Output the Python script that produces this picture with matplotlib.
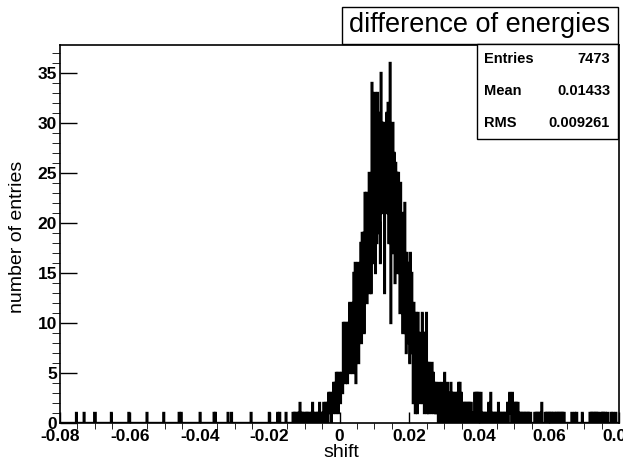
import numpy as np
import matplotlib
matplotlib.use("Agg")
import matplotlib.pyplot as plt
from matplotlib.patches import Rectangle
from matplotlib.ticker import MultipleLocator, FuncFormatter

plt.rcParams["font.family"] = ["Liberation Sans", "DejaVu Sans"]

W, H = 623, 462

# histogram binning (ROOT TH1, 800 bins over [-0.08, 0.08])
N_BINS = 800
X_MIN, X_MAX = -0.08, 0.08

# isolated single entries in the left tail
tail_hits = [-0.0753, -0.0731, -0.0701, -0.0699, -0.0653, -0.0603, -0.0551,
             -0.0503, -0.0459, -0.0453, -0.0399, -0.0359, -0.0355, -0.0319,
             -0.0309, -0.0253, -0.0201, -0.0177, -0.0171, -0.0153]

# bin contents, starting at shift = -0.015
core_start = -0.015
core_counts = [
    0, 0, 0, 0, 0, 0, 0, 0,
    1, 0, 1, 0, 1, 1, 0, 1, 0, 1, 2, 0, 1, 0, 1, 0, 1, 1, 0, 1, 0, 1, 0, 1, 1, 0, 1,
    0, 2, 0, 1, 0, 1, 1, 0, 1, 0, 1, 2, 0, 1, 0, 1, 0, 2, 1,
    0, 2, 1, 2,
    0, 3, 1, 3, 2, 0, 3,
    1, 4, 2, 4,
    1, 5, 3, 5, 1, 4, 5, 2, 5, 3,
    3, 10, 6, 10, 4, 9, 10,
    4, 10, 6, 12, 5, 11, 8, 12,
    5, 15, 8, 16, 4, 14, 10, 16, 6, 15, 9, 18,
    8, 19, 12, 19,
    9, 23, 14,
    23, 12, 22, 16, 25, 13, 23,
    13, 34, 17, 28, 16, 33,
    15, 30, 18, 33,
    19, 31, 20, 16, 35, 21, 30,
    22, 30, 13, 29, 24, 31, 21,
    32, 18, 30, 36, 10,
    29, 17, 30, 19, 27,
    14, 26, 16, 25,
    15, 25, 17, 11, 24,
    14, 21, 9, 20, 13,
    22, 9,
    7, 17, 10, 16, 8,
    6, 17, 9, 15, 7,
    2, 12, 5, 1, 11,
    10, 1, 11, 3,
    9, 2, 8, 3, 11, 2, 9,
    1, 9, 2, 11, 1,
    6, 1, 6, 2, 5, 1, 6,
    2, 5, 1, 4, 1,
    4, 1, 3, 0, 4,
    0, 3, 1, 4, 0,
    3, 1, 5, 0, 3,
    0, 4, 1, 3,
    0, 3, 4, 0, 3,
    1, 3, 0, 2, 3,
    0, 3, 1, 4,
    0, 4, 1, 3, 0,
    2, 0, 2, 1, 2,
    0, 2, 0, 2, 1, 2, 0, 2,
    0, 1, 0, 1,
    3, 0, 3, 1, 3, 0, 3, 2, 0, 3, 1,
    0, 1, 0, 1, 0, 1, 0, 1,
    0, 2, 1,
    0, 3, 1,
    0, 1, 0, 1, 0, 1, 0, 1,
    0, 2, 1,
    0, 1, 0, 1, 0, 1, 0, 1, 0, 1, 0,
    2, 0, 2, 3, 1,
    2, 0, 3, 1, 2,
    0, 2, 1, 2, 0, 2,
    1, 0, 1, 0, 1, 0, 1, 0, 1, 0, 1, 0, 1, 0, 1, 0, 1, 1,
    0, 0, 0, 0, 0,
    1, 0, 1, 0, 1, 0, 1, 0, 1,
    0, 2, 0, 0, 0, 0,
    1, 0, 1, 0, 1, 0, 1, 0, 1, 0, 1, 0, 1,
    1, 0, 1, 0, 1, 0, 1, 0, 1, 0, 1, 0, 1, 0, 1, 0,
    0, 0, 0, 0, 0, 0, 0, 0, 0,
    1, 0, 0, 0, 1, 0, 0, 1,
    0, 0, 0, 0, 0, 0, 0,
    1,
    0, 0, 0, 0, 0, 0, 0, 0, 0, 0,
    1, 0, 1, 0, 1, 0, 1, 0, 1, 0, 1, 0, 1,
    0, 0, 0,
    1, 0, 1, 0, 1, 0, 1, 0,
    0, 1, 0, 0, 0, 0, 1, 0, 0, 1, 0, 0, 0, 1, 0, 0, 0, 0,
]

stats_names = ["Entries", "Mean", "RMS"]
stats_values = ["7473", "0.01433", "0.009261"]


def fx(px):
    return px / W


def fy(py):
    return 1 - py / H


edges = np.linspace(X_MIN, X_MAX, N_BINS + 1)
counts = np.histogram(tail_hits, bins=edges)[0].astype(float)
i0 = int(round((core_start - X_MIN) / (edges[1] - edges[0])))
n = min(len(core_counts), N_BINS - i0)
counts[i0:i0 + n] += np.array(core_counts[:n])

fig = plt.figure(figsize=(W / 100, H / 100), dpi=100)
ax = fig.add_axes([fx(60), fy(423), fx(619) - fx(60), fy(45) - fy(423)])

ax.stairs(counts, edges, color="black", linewidth=1.7)

ax.set_xlim(X_MIN, X_MAX)
ax.set_ylim(0, 37.8)
ax.xaxis.set_major_locator(MultipleLocator(0.02))
ax.xaxis.set_minor_locator(MultipleLocator(0.005))
ax.yaxis.set_major_locator(MultipleLocator(5))
ax.yaxis.set_minor_locator(MultipleLocator(1))
ax.xaxis.set_major_formatter(FuncFormatter(lambda v, p: "0" if abs(v) < 1e-9 else f"{round(v, 3):g}"))

ax.tick_params(direction="in", top=False, right=False, width=1)
ax.tick_params(axis="y", which="major", length=12, pad=2)
ax.tick_params(axis="y", which="minor", length=5.8)
ax.tick_params(axis="x", which="major", length=8, pad=4)
ax.tick_params(axis="x", which="minor", length=4)
for lab in ax.get_xticklabels() + ax.get_yticklabels():
    lab.set_fontsize(12.5)
    lab.set_fontweight("bold")
for s in ax.spines.values():
    s.set_linewidth(1.2)

ax.set_xlabel("shift", fontsize=14)
ax.xaxis.set_label_coords((341 - 60) / 559, (423 - 444) / 378)
ax.set_ylabel("number of entries", fontsize=14)
ax.yaxis.set_label_coords((26 - 60) / 559, (423 - 237) / 378)

# title box
fig.patches.append(Rectangle((fx(342), fy(44)), fx(618) - fx(342), fy(7) - fy(44),
                             transform=fig.transFigure, facecolor="white",
                             edgecolor="black", linewidth=1))
fig.text(fx(479), fy(25), "difference of energies", fontsize=19.5,
         ha="center", va="center")

# stats box
fig.patches.append(Rectangle((fx(477), fy(139)), fx(618) - fx(477), fy(44) - fy(139),
                             transform=fig.transFigure, facecolor="white",
                             edgecolor="black", linewidth=1))
for row, (name, val) in enumerate(zip(stats_names, stats_values)):
    y = fy(59 + 32 * row)
    fig.text(fx(484), y, name, fontsize=10.5, fontweight="bold", ha="left", va="center")
    fig.text(fx(610), y, val, fontsize=10.5, fontweight="bold", ha="right", va="center")

fig.savefig("out.png", dpi=100)
